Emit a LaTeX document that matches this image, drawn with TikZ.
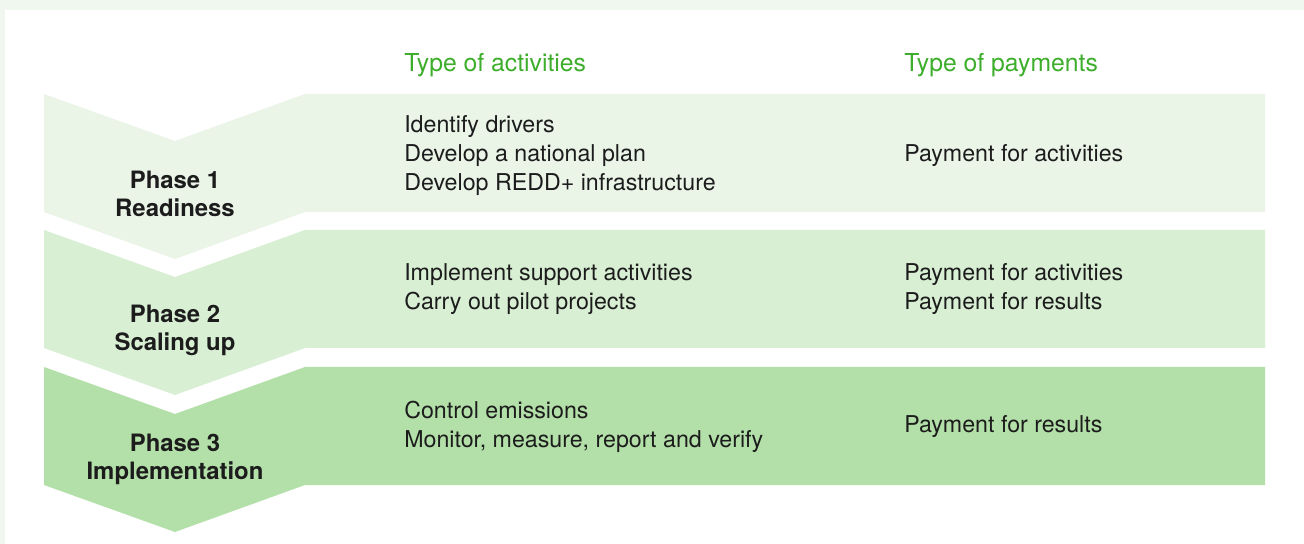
\documentclass[tikz,border=0pt]{standalone}
\usepackage{fontspec}
\setmainfont{TeX Gyre Heros}
\usetikzlibrary{positioning}
\definecolor{PaleBg}  {HTML}{EFF7EE}
\definecolor{LeafA}   {HTML}{EAF5E8}
\definecolor{LeafB}   {HTML}{D8EFD4}
\definecolor{LeafC}   {HTML}{B3DFA8}
\definecolor{HeadGrn} {HTML}{3DAE2B}
\definecolor{Ink}     {HTML}{1C1C1C}

\begin{document}
\begin{tikzpicture}[x=0.025cm,y=-0.025cm,
    txt/.style={font={\fontsize{16.5}{20.6}\selectfont},text=Ink,inner sep=0pt,align=left,anchor=west},
    head/.style={txt,text=HeadGrn,font={\fontsize{17.6}{20}\selectfont}},
    phase/.style={txt,anchor=center,align=center,font={\fontsize{17}{20}\selectfont\bfseries}}]
  \fill[PaleBg] (0,0) rectangle (1304,544);
  \fill[white] (5,10) rectangle (1304,544);
  \node[head] (hact) at (404,65) {Type of activities};
  \node[head] (hpay) at (904,65) {Type of payments};
        \foreach \i/\y/\py/\ty/\col/\name/\acts/\pays in {
          1/94/100/62/LeafA/Readiness/{Identify drivers\\Develop a national plan\\Develop REDD+ infrastructure}/{Payment for activities},
          2/230/100/59/LeafB/Scaling up/{Implement support activities\\Carry out pilot projects}/{Payment for activities\\Payment for results},
          3/367/92/60/LeafC/Implementation/{Control emissions\\Monitor, measure, report and verify}/{Payment for results}}{
          \fill[\col] (44,\y) -- (175,\y+47) -- (305,\y) -- (1265,\y) -- (1265,\y+118)
            -- (305,\y+118) -- (175,\y+165) -- (44,\y+118) -- cycle;
          \node[phase] (ph\i) at (175,\y+\py) {Phase \i\\\name};
          \node[txt] (act\i) at (404,\y+\ty) {\acts};
          \node[txt] (pay\i) at (904,\y+\ty) {\pays};
        }
\end{tikzpicture}
\end{document}
